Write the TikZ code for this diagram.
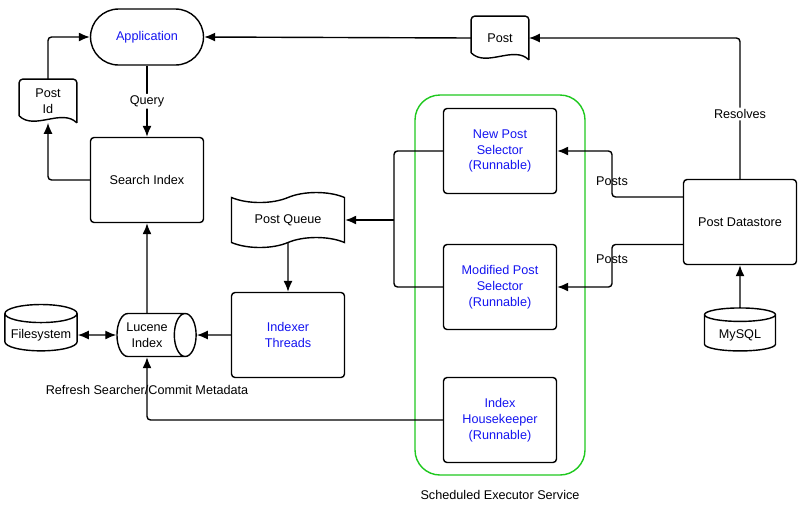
\documentclass[tikz,border=0pt]{standalone}
\usepackage{fontspec}
\setmainfont{Liberation Sans}
\usetikzlibrary{shapes.geometric,shapes.symbols,arrows.meta}
\definecolor{runblue}{RGB}{20,20,240}
\definecolor{svcgreen}{RGB}{30,200,30}
\tikzset{ box/.style = { rectangle % process
, draw, thick, rounded corners=2pt
, minimum width=2.26cm, minimum height=1.7cm
, align=center
}
, doc/.style = { rectangle % document, outline drawn by \docpath
, minimum width=1.14cm, minimum height=0.86cm
, align=center, inner sep=1pt
}
, drum/.style = { cylinder % storage
, draw, thick, aspect=0.25
, minimum width=0.86cm, minimum height=1.4cm
, shape border rotate=90, align=center
}
, link/.style = { draw, thick, rounded corners=2pt, -{Latex[length=2.2mm,width=1.8mm]}
}
, lbl/.style = { inner sep=1pt
}
}
\newcommand\docpath[1]{% page with a wavy lower edge
  \draw[thick,rounded corners=2pt] ([yshift=0.14cm]#1.south west) -- (#1.north west) -- (#1.north east)
    -- (#1.south east);
  \draw[thick] (#1.south east) .. controls +(-0.3cm,0.3cm) and +(0.3cm,-0.3cm) .. ([yshift=0.14cm]#1.south west);}

\begin{document}
\begin{tikzpicture}[x=0.02cm, y=-0.02cm, font=\fontsize{7.2}{9}\selectfont]
  \useasboundingbox (0,0) rectangle (800,505);

  % left column
  \node [box, rounded corners=0.56cm, minimum height=1.12cm, text=runblue] (app) at (147,37) {Application};
  \node [box] (sidx) at (147,180) {Search Index};
  \node [doc] (pid) at (48,101) {Post\\Id};
  \docpath{pid}
  \node [drum, shape border rotate=0, minimum width=0.86cm, minimum height=1.08cm, aspect=0.6] (luc) at (147,335) {Lucene\\Index};
  \node [drum, minimum width=1.42cm, minimum height=0.86cm] (fs) at (41,335) {Filesystem};

  % middle column
  \node [tape, draw, thick, tape bend height=0.2cm, minimum width=2.26cm, minimum height=1.1cm] (pq) at (288,220) {Post Queue};
  \node [box, text=runblue] (idx) at (288,335) {Indexer\\Threads};

  % executor service
  \draw [svcgreen, thick, rounded corners=0.5cm] (415,95) rectangle (585,475);
  \node [box, text=runblue] (nps) at (500,151) {New Post\\Selector\\(Runnable)};
  \node [box, text=runblue] (mps) at (500,287) {Modified Post\\Selector\\(Runnable)};
  \node [box, text=runblue] (ihk) at (500,420) {Index\\Housekeeper\\(Runnable)};
  \node [lbl] (svc) at (500,495) {Scheduled Executor Service};

  % right column
  \node [doc] (post) at (500,38) {Post};
  \docpath{post}
  \node [box] (pds) at (740,222) {Post Datastore};
  \node [drum, minimum width=1.42cm, minimum height=0.86cm] (sql) at (740,335) {MySQL};

  % connectors
  \draw [link] (app) -- node [lbl, fill=white] {Query} (sidx);
  \draw [link] (sidx.west) -| (pid.south);
  \draw [link] (pid.north) |- (app.west);
  \draw [link] (post.west) -- (app.east);
  \draw [link] (pds.north) |- node [lbl, pos=0.23, fill=white] {Resolves} (post.east);
  \draw [link] ([yshift=0.5cm]pds.west) -| (612,151) -- (nps.east);
  \draw [link] ([yshift=-0.45cm]pds.west) -| (612,287) -- (mps.east);
  \node [lbl] (p1) at (612,181) {Posts};
  \node [lbl] (p2) at (612,259) {Posts};
  \coordinate (jn) at (394,220);
  \draw [thick, rounded corners=2pt] (nps.west) -| (jn) |- (mps.west);
  \draw [link] (jn) -- (pq.east);
  \draw [link] (pq) -- (idx);
  \draw [link] (idx.west) -- (luc.east);
  \draw [link, {Latex[length=2.2mm,width=1.8mm]}-{Latex[length=2.2mm,width=1.8mm]}] (fs.east) -- (luc.west);
  \draw [link] (luc.north) -- (sidx.south);
  \draw [link] (ihk.west) -| (luc.south);
  \draw [link] (sql.north) -- (pds.south);
  \node [lbl] (rsc) at (147,390) {Refresh Searcher/Commit Metadata};
\end{tikzpicture}
\end{document}
